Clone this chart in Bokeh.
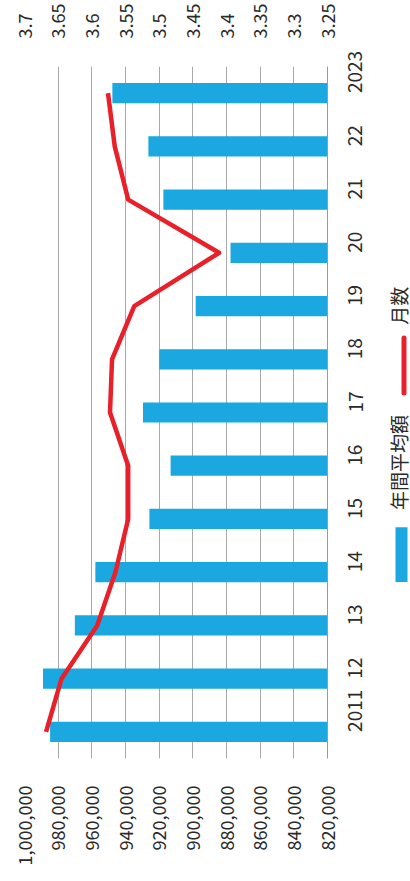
import math
from bokeh.plotting import figure
from bokeh.layouts import row
from bokeh.models import (Range1d, LinearAxis, FixedTicker,
                          NumeralTickFormatter, CustomJSTickFormatter)
from bokeh.core.properties import value
from bokeh.embed import file_html
from bokeh.resources import INLINE

# ---- data ----
years = ["2011", "12", "13", "14", "15", "16", "17", "18", "19", "20", "21", "22", "2023"]
avg_amount = [984800, 989000, 970100, 957900, 925800, 913200, 929600,
              919900, 898300, 877600, 917500, 926400, 947800]
months = [3.668, 3.645, 3.592, 3.565, 3.546, 3.546, 3.573,
          3.570, 3.537, 3.411, 3.546, 3.566, 3.576]
amount_ticks = [820000, 840000, 860000, 880000, 900000, 920000, 940000, 960000, 980000, 1000000]
month_ticks = [3.25, 3.3, 3.35, 3.4, 3.45, 3.5, 3.55, 3.6, 3.65, 3.7]
legend_labels = ["年間平均額", "月数"]

pos = list(range(len(years)))

BAR = "#1ba7df"
RED = "#e8202a"
TXT = "#2a2a2a"
FONT = "Noto Sans CJK JP"

p = figure(width=380, height=881, output_backend="svg", toolbar_location=None,
           x_range=Range1d(1000000, 820000), y_range=Range1d(-0.5, len(years) - 0.5),
           y_axis_location="right",
           min_border_left=24, min_border_right=53, min_border_top=52, min_border_bottom=123)
p.extra_x_ranges = {"m": Range1d(3.7, 3.25)}
p.outline_line_color = None
p.background_fill_color = "white"
p.border_fill_color = "white"

# bars
p.hbar(y=pos, left=820000, right=avg_amount, height=0.38, color=BAR, line_color=None)
# line
p.line(x=months, y=pos, x_range_name="m", line_color=RED, line_width=4.5, line_join="round")

# bottom axis (amount)
xa = p.xaxis[0]
xa.ticker = FixedTicker(ticks=amount_ticks)
xa.formatter = NumeralTickFormatter(format="0,0")
xa.major_label_orientation = math.pi / 2
xa.axis_line_color = None
xa.major_tick_line_color = None
xa.minor_tick_line_color = None
xa.major_label_standoff = 21
xa.major_label_text_font = FONT
xa.major_label_text_font_size = "18px"
xa.major_label_text_color = TXT

# top axis (months)
ta = LinearAxis(x_range_name="m", ticker=FixedTicker(ticks=month_ticks),
                formatter=CustomJSTickFormatter(code="return String(Math.round(tick*100)/100);"))
ta.major_label_orientation = math.pi / 2
ta.axis_line_color = None
ta.major_tick_line_color = None
ta.minor_tick_line_color = None
ta.major_label_standoff = 22
ta.major_label_text_font = FONT
ta.major_label_text_font_size = "18px"
ta.major_label_text_color = TXT
p.add_layout(ta, "above")

# right axis (years)
ya = p.yaxis[0]
ya.ticker = FixedTicker(ticks=pos)
ya.major_label_overrides = {i: y for i, y in zip(pos, years)}
ya.major_label_orientation = math.pi / 2
ya.axis_line_color = "#9a9a9a"
ya.axis_line_width = 1
ya.major_tick_line_color = None
ya.minor_tick_line_color = None
ya.major_label_standoff = 22
ya.major_label_text_font = FONT
ya.major_label_text_font_size = "19px"
ya.major_label_text_color = TXT

p.xgrid.ticker = FixedTicker(ticks=amount_ticks)
p.xgrid.grid_line_color = "#a8a8a8"
p.xgrid.grid_line_width = 1
p.ygrid.grid_line_color = None

# ---- legend panel (rotated, like the reference); its frame spans the same
# vertical band as the main frame, and its ranges are in page pixels ----
lg = figure(width=30, height=881, output_backend="svg", toolbar_location=None,
            x_range=Range1d(380, 410), y_range=Range1d(758, 52),
            x_axis_type=None, y_axis_type=None,
            min_border_left=0, min_border_right=0,
            min_border_top=52, min_border_bottom=123)
lg.outline_line_color = None
lg.grid.visible = False
lg.quad(left=[395], right=[407], top=[522], bottom=[578], color=BAR, line_color=None)
lg.segment(x0=[403.5], y0=[329], x1=[403.5], y1=[385], line_color=RED, line_width=5,
           line_cap="round")
lg.text(x=[398, 398], y=[456, 296], text=legend_labels, angle=math.pi / 2,
        text_align="center", text_baseline="middle",
        text_font=value(FONT), text_font_size="19px", text_color=TXT)

layout = row(p, lg, spacing=0)
open("out.html", "w").write(file_html(layout, INLINE))
